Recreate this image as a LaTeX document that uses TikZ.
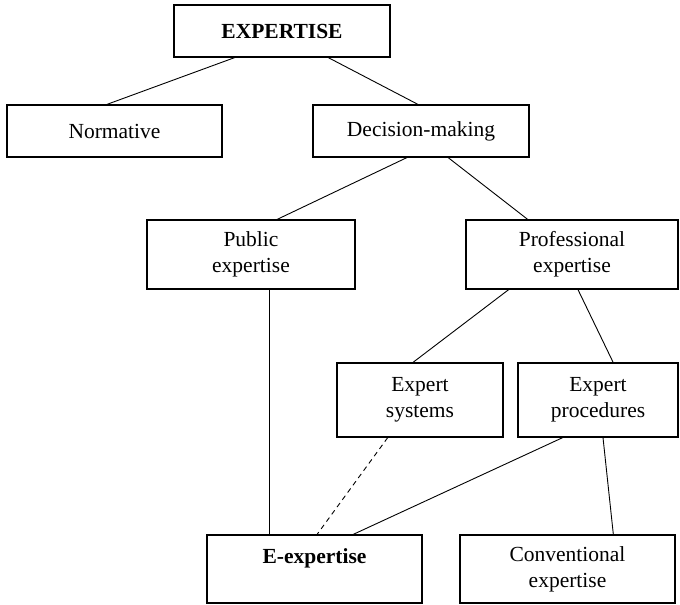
\documentclass[tikz,border=0pt]{standalone}
\usepackage{fontspec}
\setmainfont{Liberation Serif}
\usetikzlibrary{calc}
\begin{document}
\begin{tikzpicture}[x=1pt,y=-1pt,
  box/.style={draw,line width=1.2pt,rectangle,inner sep=0pt,align=center,
    font=\fontsize{21.5}{26}\selectfont},
  link/.style={line width=0.9pt},
  dlink/.style={line width=0.9pt,dash pattern=on 5pt off 4pt}]
\useasboundingbox (0,0) rectangle (680,605);

% boxes
\node[box,minimum width=216,minimum height=52] (top)  at (282,31)    {\textbf{EXPERTISE}};
\node[box,minimum width=215,minimum height=52] (norm) at (114.5,131) {Normative};
\node[box,minimum width=216,minimum height=52] (dec)  at (421,131)   {Decision-making};
\node[box,minimum width=208,minimum height=69] (pub)  at (251,254.5) {Public\\expertise};
\node[box,minimum width=212,minimum height=69] (prof) at (572,254.5) {Professional\\expertise};
\node[box,minimum width=166,minimum height=74] (esys) at (420,400)   {Expert\\systems};
\node[box,minimum width=160,minimum height=74] (eproc) at (598,400)  {Expert\\procedures};
\node[box,minimum width=215,minimum height=68] (eexp) at (314.5,569) {\textbf{E-expertise}\\\mbox{}};
\node[box,minimum width=215,minimum height=68] (conv) at (567.5,569) {Conventional\\expertise};

% connectors
\draw[link] ($(top.south west)!0.282!(top.south east)$) -- ($(norm.north west)!0.465!(norm.north east)$);
\draw[link] ($(top.south west)!0.713!(top.south east)$) -- ($(dec.north west)!0.486!(dec.north east)$);
\draw[link] ($(dec.south west)!0.435!(dec.south east)$) -- ($(pub.north west)!0.625!(pub.north east)$);
\draw[link] ($(dec.south west)!0.625!(dec.south east)$) -- ($(prof.north west)!0.292!(prof.north east)$);
\coordinate (pubdown) at ($(pub.south west)!0.59!(pub.south east)$);
\draw[link] (pubdown) -- (pubdown |- eexp.north);
\draw[link] ($(prof.south west)!0.203!(prof.south east)$) -- ($(esys.north west)!0.458!(esys.north east)$);
\draw[link] ($(prof.south west)!0.528!(prof.south east)$) -- ($(eproc.north west)!0.594!(eproc.north east)$);
\draw[dlink] ($(esys.south west)!0.307!(esys.south east)$) -- ($(eexp.north west)!0.512!(eexp.north east)$);
\draw[link] ($(eproc.south west)!0.281!(eproc.south east)$) -- ($(eexp.north west)!0.679!(eexp.north east)$);
\draw[link] ($(eproc.south west)!0.531!(eproc.south east)$) -- ($(conv.north west)!0.712!(conv.north east)$);
\end{tikzpicture}
\end{document}
